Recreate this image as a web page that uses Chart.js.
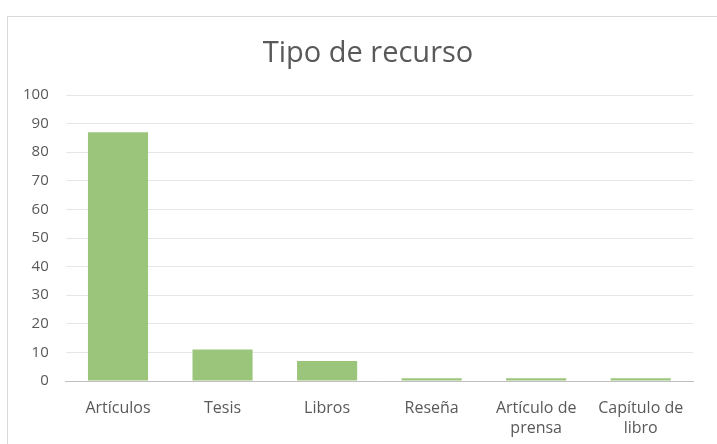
<!DOCTYPE html>
<html>
<head>
<meta charset="utf-8">
<script src="https://cdn.jsdelivr.net/npm/chart.js@4"></script>
<style>
  html, body { margin: 0; padding: 0; background: #fff; }
  #frame {
    position: absolute; left: 7px; top: 16px; width: 720px; height: 440px;
    border: 1px solid #d9d9d9; box-sizing: border-box;
  }
  #chart { position: absolute; left: 0; top: 0; }
</style>
</head>
<body>
<div id="frame"></div>
<canvas id="chart" width="717" height="444"></canvas>
<script>
// Chart data
const categories = [
  "Artículos",
  "Tesis",
  "Libros",
  "Reseña",
  ["Artículo de", "prensa"],
  ["Capítulo de", "libro"],
];
const counts = [87, 11, 7, 1, 1, 1];
const yTicks = [0, 10, 20, 30, 40, 50, 60, 70, 80, 90, 100];

const textColor = "#595959";
const fontFamily = "'Open Sans', 'Liberation Sans', sans-serif";

// the original frame is wider than the picture, so its title sits right of centre
const shiftTitle = {
  id: "shiftTitle",
  afterLayout(chart) {
    const t = chart.titleBlock;
    if (t) {
      t.left += 18.5;
      t.right += 18.5;
    }
  },
};

const ctx = document.getElementById("chart").getContext("2d");
new Chart(ctx, {
  type: "bar",
  data: {
    labels: categories,
    datasets: [
      {
        label: "Tipo de recurso",
        data: counts,
        backgroundColor: "#9cc57c",
        barPercentage: 0.575,
        categoryPercentage: 1,
      },
    ],
  },
  options: {
    responsive: false,
    animation: false,
    layout: {
      padding: { left: 6, right: 24, top: 26, bottom: -11 },
    },
    plugins: {
      legend: { display: false },
      tooltip: { enabled: false },
      title: {
        display: true,
        text: "Tipo de recurso",
        color: textColor,
        font: { family: fontFamily, size: 29, weight: "normal", lineHeight: 1.2 },
        padding: { top: 10.6, bottom: 23.6 },
      },
    },
    scales: {
      x: {
        grid: { display: false, drawTicks: false },
        border: { color: "#bfbfbf", width: 1 },
        ticks: {
          color: textColor,
          font: { family: fontFamily, size: 16, lineHeight: 1.25 },
          padding: 17,
          maxRotation: 0,
          autoSkip: false,
        },
      },
      y: {
        min: yTicks[0],
        max: yTicks[yTicks.length - 1],
        afterBuildTicks: (scale) => {
          scale.ticks = yTicks.map((v) => ({ value: v }));
        },
        grid: { color: "#e6e6e6", drawTicks: false },
        border: { display: false },
        ticks: {
          color: textColor,
          font: { family: fontFamily, size: 15 },
          padding: 17,
        },
      },
    },
  },
  plugins: [shiftTitle],
});
</script>
</body>
</html>
